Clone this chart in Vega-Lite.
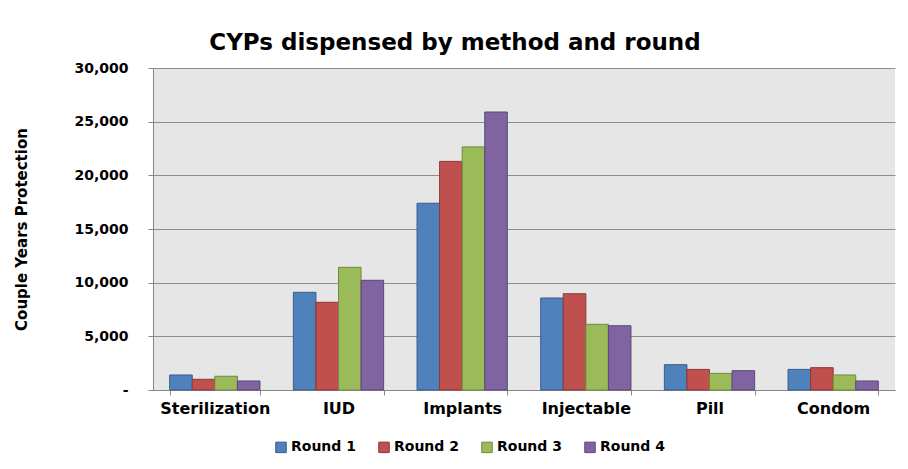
{
  "$schema": "https://vega.github.io/schema/vega-lite/v6.json",
  "width": 742,
  "height": 322,
  "autosize": "none",
  "padding": {"left": 153, "top": 68, "right": 13, "bottom": 79},
  "background": "white",
  "title": {
    "text": "CYPs dispensed by method and round",
    "font": "DejaVu Sans",
    "fontSize": 23,
    "fontWeight": "bold",
    "color": "#000000",
    "anchor": "middle",
    "frame": "bounds",
    "offset": 6
  },
  "data": {
    "values": [
      {"method": "Sterilization", "round": "Round 1", "cyp": 1400},
      {"method": "Sterilization", "round": "Round 2", "cyp": 1000},
      {"method": "Sterilization", "round": "Round 3", "cyp": 1280},
      {"method": "Sterilization", "round": "Round 4", "cyp": 840},
      {"method": "IUD", "round": "Round 1", "cyp": 9100},
      {"method": "IUD", "round": "Round 2", "cyp": 8170},
      {"method": "IUD", "round": "Round 3", "cyp": 11430},
      {"method": "IUD", "round": "Round 4", "cyp": 10220},
      {"method": "Implants", "round": "Round 1", "cyp": 17400},
      {"method": "Implants", "round": "Round 2", "cyp": 21300},
      {"method": "Implants", "round": "Round 3", "cyp": 22650},
      {"method": "Implants", "round": "Round 4", "cyp": 25900},
      {"method": "Injectable", "round": "Round 1", "cyp": 8570},
      {"method": "Injectable", "round": "Round 2", "cyp": 8970},
      {"method": "Injectable", "round": "Round 3", "cyp": 6120},
      {"method": "Injectable", "round": "Round 4", "cyp": 5990},
      {"method": "Pill", "round": "Round 1", "cyp": 2360},
      {"method": "Pill", "round": "Round 2", "cyp": 1920},
      {"method": "Pill", "round": "Round 3", "cyp": 1550},
      {"method": "Pill", "round": "Round 4", "cyp": 1800},
      {"method": "Condom", "round": "Round 1", "cyp": 1920},
      {"method": "Condom", "round": "Round 2", "cyp": 2080},
      {"method": "Condom", "round": "Round 3", "cyp": 1400},
      {"method": "Condom", "round": "Round 4", "cyp": 840}
    ]
  },
  "mark": {"type": "bar", "strokeWidth": 1},
  "encoding": {
    "x": {
      "field": "method",
      "type": "nominal",
      "sort": ["Sterilization", "IUD", "Implants", "Injectable", "Pill", "Condom"],
      "scale": {"paddingInner": 0.27, "paddingOuter": 0.135},
      "axis": {
        "title": null,
        "labelAngle": 0,
        "labelFont": "DejaVu Sans",
        "labelFontSize": 16,
        "labelFontWeight": "bold",
        "labelColor": "#000000",
        "labelPadding": 5,
        "tickBand": "extent",
        "ticks": true,
        "tickSize": 5,
        "tickColor": "#868686",
        "domainColor": "#868686",
        "grid": false
      }
    },
    "xOffset": {
      "field": "round",
      "type": "nominal",
      "scale": {"paddingInner": 0, "paddingOuter": 0}
    },
    "y": {
      "field": "cyp",
      "type": "quantitative",
      "scale": {"domain": [0, 30000]},
      "axis": {
        "title": "Couple Years Protection",
        "titleFont": "DejaVu Sans",
        "titleFontSize": 15,
        "titleFontWeight": "bold",
        "titleColor": "#000000",
        "titlePadding": 44,
        "values": [0, 5000, 10000, 15000, 20000, 25000, 30000],
        "labelExpr": "datum.value === 0 ? '-' : format(datum.value, ',')",
        "labelFont": "DejaVu Sans",
        "labelFontSize": 14,
        "labelFontWeight": "bold",
        "labelColor": "#000000",
        "labelPadding": 20,
        "tickSize": 5,
        "tickColor": "#868686",
        "domainColor": "#868686",
        "grid": true,
        "gridColor": "#8E8E8E",
        "gridWidth": 1
      }
    },
    "color": {
      "field": "round",
      "type": "nominal",
      "scale": {
        "domain": ["Round 1", "Round 2", "Round 3", "Round 4"],
        "range": ["#4F81BD", "#C0504D", "#9BBB59", "#8064A2"]
      }
    },
    "stroke": {
      "field": "round",
      "type": "nominal",
      "scale": {
        "domain": ["Round 1", "Round 2", "Round 3", "Round 4"],
        "range": ["#385D8A", "#8C3836", "#71893F", "#5C4776"]
      }
    }
  },
  "config": {
    "view": {"fill": "#E6E6E6", "stroke": null},
    "legend": {
      "title": null,
      "orient": "none",
      "legendX": 121,
      "legendY": 372,
      "direction": "horizontal",
      "padding": 0,
      "symbolType": "square",
      "symbolSize": 110,
      "symbolStrokeWidth": 1,
      "labelFont": "DejaVu Sans",
      "labelFontSize": 14,
      "labelFontWeight": "bold",
      "labelColor": "#000000",
      "columnPadding": 20,
      "labelOffset": 3
    }
  }
}
